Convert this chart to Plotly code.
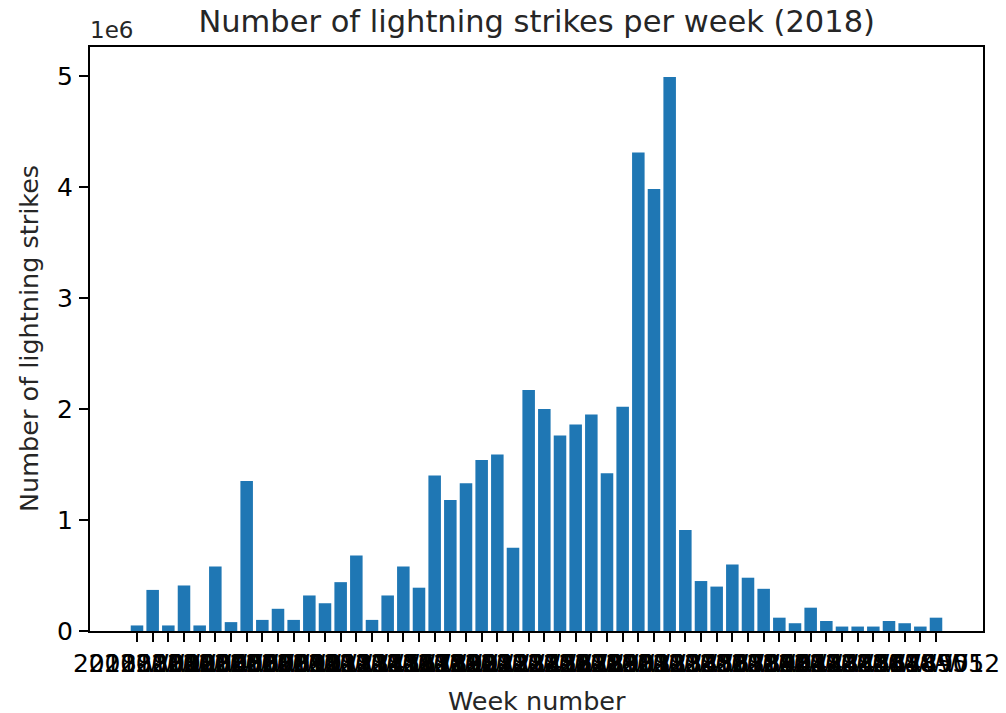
import plotly.graph_objects as go

weeks = [f"2018-W{i:02d}" for i in range(1, 53)]
strikes = [
    50000, 370000, 50000, 410000, 50000, 580000, 80000, 1350000, 100000, 200000,
    100000, 320000, 250000, 440000, 680000, 100000, 320000, 580000, 390000, 1400000,
    1180000, 1330000, 1540000, 1590000, 750000, 2170000, 2000000, 1760000, 1860000, 1950000,
    1420000, 2020000, 4310000, 3980000, 4990000, 910000, 450000, 400000, 600000, 480000,
    380000, 120000, 70000, 210000, 90000, 40000, 40000, 40000, 90000, 70000,
    40000, 120000,
]
y_tick_vals = [0, 1e6, 2e6, 3e6, 4e6, 5e6]
y_tick_text = ["0", "1", "2", "3", "4", "5"]

FONT = "DejaVu Sans"

fig = go.Figure(go.Bar(x=weeks, y=strikes, marker=dict(color="#1f77b4", line=dict(width=0))))

fig.update_layout(
    width=1006, height=713,
    margin=dict(l=90, r=23, t=47, b=82, autoexpand=False),
    plot_bgcolor="white", paper_bgcolor="white",
    bargap=0.2,
    showlegend=False,
    font=dict(family=FONT, size=25, color="black"),
    title=dict(text="Number of lightning strikes per week (2018)", x=0.5335, xanchor="center",
               y=1 - 21 / 713, yanchor="middle", yref="container",
               font=dict(family=FONT, size=30.5, color="#262626")),
)
fig.update_xaxes(
    type="category", range=[-3, 54], automargin=False,
    tickmode="array", tickvals=weeks, ticktext=weeks, tickangle=0,
    ticks="outside", ticklen=9, tickwidth=2, tickcolor="black",
    showline=True, linecolor="black", linewidth=2, mirror=True,
    showgrid=False, zeroline=False,
    tickfont=dict(family=FONT, size=25, color="black"),
    ticklabelstandoff=0,
)
fig.update_yaxes(
    range=[0, 5.26e6], automargin=False,
    tickmode="array", tickvals=y_tick_vals, ticktext=y_tick_text,
    ticks="outside", ticklen=9, tickwidth=2, tickcolor="black",
    showline=True, linecolor="black", linewidth=2, mirror=True,
    showgrid=False, zeroline=False,
    tickfont=dict(family=FONT, size=25, color="black"),
    ticklabelstandoff=1,
)
fig.add_annotation(text="Week number", xref="paper", yref="paper", x=0.5, y=0,
                   xanchor="center", yanchor="middle", yshift=-70, showarrow=False,
                   font=dict(family=FONT, size=25.5, color="#262626"))
fig.add_annotation(text="Number of lightning strikes", xref="paper", yref="paper", x=0, y=0.5,
                   xanchor="center", yanchor="middle", xshift=-61, textangle=-90, showarrow=False,
                   font=dict(family=FONT, size=25.5, color="#262626"))
fig.add_annotation(text="1e6", xref="paper", yref="paper", x=0, y=1,
                   xanchor="left", yanchor="bottom", xshift=-2, yshift=2, showarrow=False,
                   font=dict(family=FONT, size=23, color="#262626"))

fig.write_html("out.html", config={"displayModeBar": False},
               post_script="document.body.style.margin='0';")
